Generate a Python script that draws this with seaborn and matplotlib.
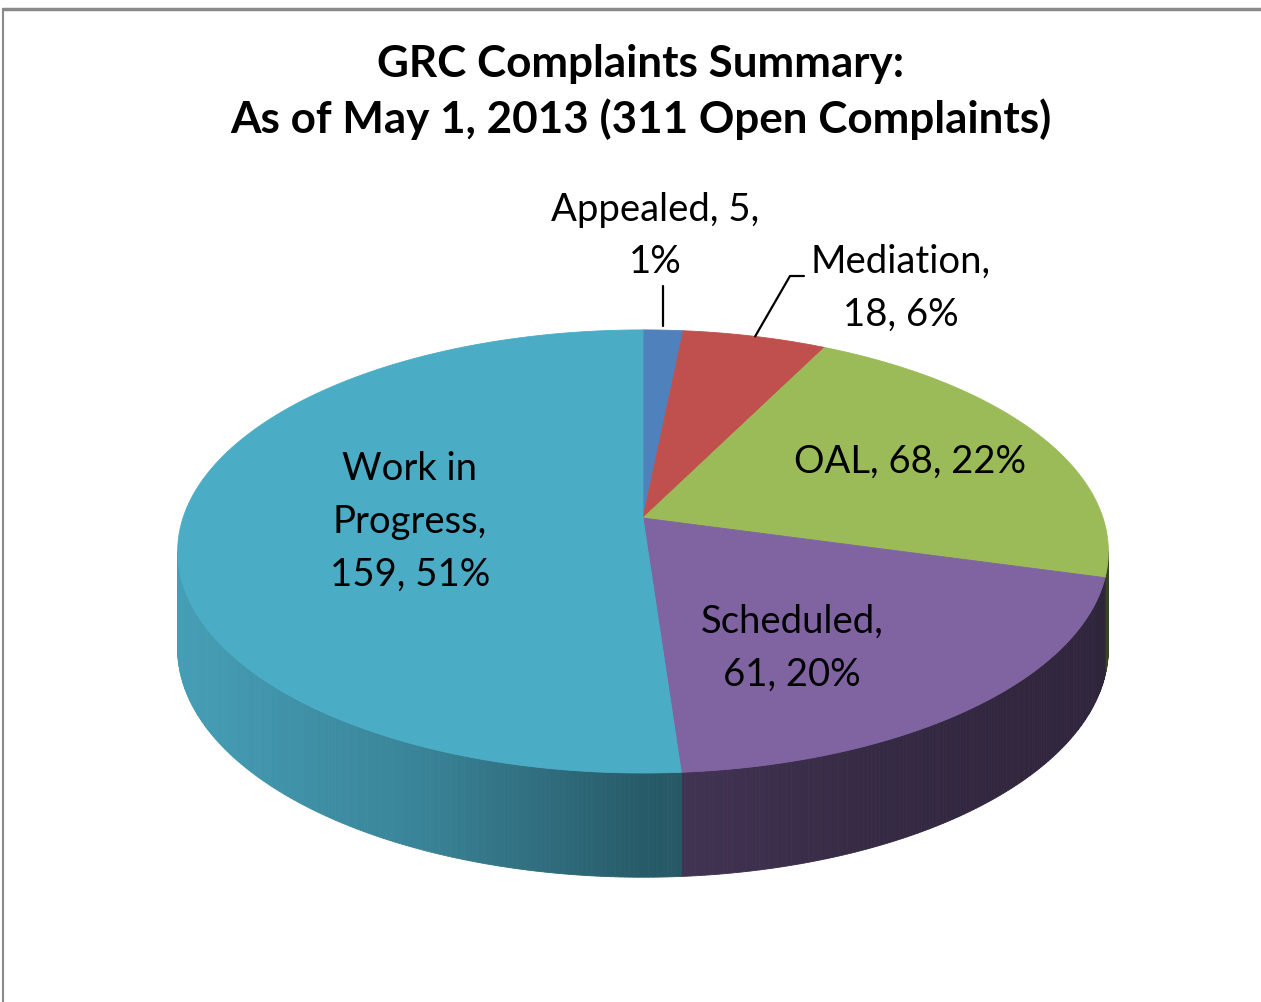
import numpy as np
import matplotlib
matplotlib.use("Agg")
import matplotlib.pyplot as plt
from matplotlib.patches import Polygon
from matplotlib.colors import to_rgb
import seaborn as sns

# data
categories = ["Appealed", "Mediation", "OAL", "Scheduled", "Work in Progress"]
counts = [5, 18, 68, 61, 159]
pct_labels = ["1%", "6%", "22%", "20%", "51%"]
colors = ["#4F81BD", "#C0504D", "#9BBB59", "#8064A2", "#4BACC6"]
label_fmt = ["{c}, {n},\n{p}", "{c},\n{n}, {p}", "{c}, {n}, {p}",
             "{c},\n{n}, {p}", "Work in\nProgress,\n{n}, {p}"]
title = "GRC Complaints Summary:\nAs of May 1, 2013 (311 Open Complaints)"

sns.set_theme(style="white")
plt.rcParams["font.family"] = ["Lato", "DejaVu Sans"]

W, H = 1261, 1002
fig = plt.figure(figsize=(W / 100, H / 100), dpi=100)
ax = fig.add_axes([0, 0, 1, 1])
ax.set_xlim(0, W)
ax.set_ylim(H, 0)
ax.axis("off")

# tilted disc with a bit of perspective (pixel units)
CX, CY = 643, 518
RX, RY = 460, 216.5
DIST = 6.62
DEPTH = 96


def project(theta, frac=1.0):
    # theta in degrees, clockwise from 12 o'clock
    t = np.radians(theta)
    x = np.sin(t) * frac
    z = -np.cos(t) * frac
    s = DIST / (DIST - z)
    return CX + RX * x * s, CY + RY * z * s, s


def shade(col, xn):
    f = np.interp(xn, [-1.05, -0.5, 0, 0.5, 1.05], [0.93, 0.77, 0.53, 0.42, 0.36])
    return tuple(np.array(to_rgb(col)) * f)


total = sum(counts)
bounds = np.concatenate([[0], np.cumsum(counts)]) / total * 360

# side wall (only the part facing the viewer)
ta = np.degrees(np.arccos(-1 / DIST))
tb = 360 - ta
for i in range(len(counts)):
    a, b = max(bounds[i], ta), min(bounds[i + 1], tb)
    if a >= b:
        continue
    edges = np.linspace(a, b, int((b - a) / 0.5) + 2)
    for t0, t1 in zip(edges[:-1], edges[1:]):
        th = np.linspace(t0, t1, 3)
        x, y, s = project(th)
        yb = y + DEPTH * np.sqrt(s)
        pts = np.column_stack([np.r_[x, x[::-1]], np.r_[y, yb[::-1]]])
        c = shade(colors[i], (x.mean() - CX) / RX)
        ax.add_patch(Polygon(pts, closed=True, facecolor=c, edgecolor=c, lw=0.6))

# top faces
for i in range(len(counts)):
    th = np.linspace(bounds[i], bounds[i + 1], 200)
    x, y, _ = project(th)
    pts = np.column_stack([np.r_[CX, x], np.r_[CY, y]])
    ax.add_patch(Polygon(pts, closed=True, facecolor=colors[i], edgecolor=colors[i], lw=0.6))

# data labels
label_xy = [(655, 236), (901, 288), (910, 462), (792, 648), (410, 522)]
for i, c in enumerate(categories):
    txt = label_fmt[i].format(c=c, n=counts[i], p=pct_labels[i])
    ax.text(*label_xy[i], txt, ha="center", va="center", fontsize=27.5,
            linespacing=1.58, color="black")

# leader lines for the two small slices
mid = (bounds[:-1] + bounds[1:]) / 2
x0, y0, _ = project(mid[0])
ax.plot([x0, x0], [y0 - 4, 286], color="black", lw=1.6)
x1, y1, _ = project(mid[1])
ax.plot([x1, 790, 804], [y1, 276, 276], color="black", lw=1.6)

fig.text(0.508, 1 - 92 / H, title, ha="center", va="center", fontsize=31.7,
         fontweight="bold", linespacing=1.39, color="black")

# chart frame (top and left edges)
ax.plot([3, W], [9, 9], color="#8a8a8a", lw=2.5)
ax.plot([3, 3], [9, H], color="#8a8a8a", lw=1.5)

fig.savefig("out.png", dpi=100)
